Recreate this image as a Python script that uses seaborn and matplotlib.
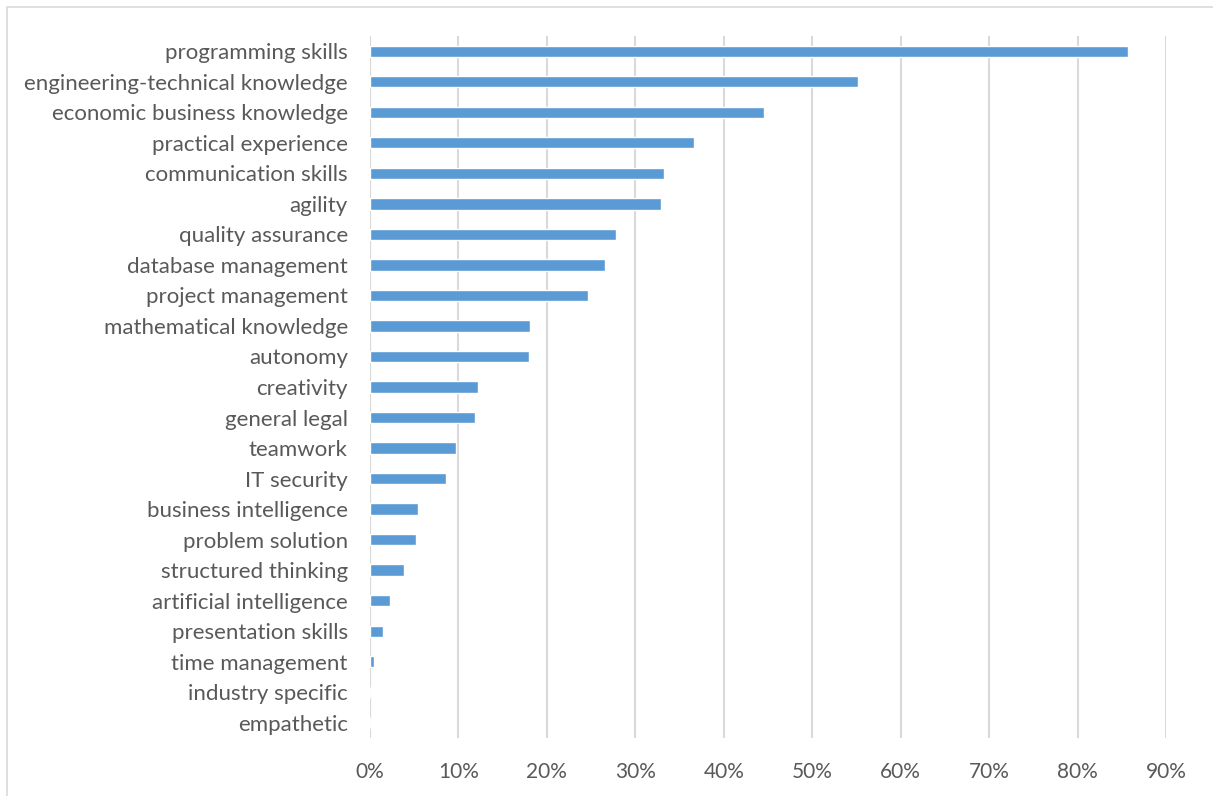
import matplotlib
matplotlib.use("Agg")
import matplotlib.pyplot as plt
from matplotlib.patches import Rectangle
from matplotlib.ticker import PercentFormatter
import pandas as pd
import seaborn as sns

skills = [
    "programming skills", "engineering-technical knowledge", "economic business knowledge",
    "practical experience", "communication skills", "agility", "quality assurance",
    "database management", "project management", "mathematical knowledge", "autonomy",
    "creativity", "general legal", "teamwork", "IT security", "business intelligence",
    "problem solution", "structured thinking", "artificial intelligence",
    "presentation skills", "time management", "industry specific", "empathetic",
]
shares = [
    0.857, 0.552, 0.446, 0.366, 0.332, 0.329, 0.278, 0.266, 0.246, 0.181, 0.180,
    0.122, 0.119, 0.097, 0.086, 0.054, 0.052, 0.038, 0.023, 0.015, 0.004, 0.0, 0.0,
]
x_ticks = [0.0, 0.1, 0.2, 0.3, 0.4, 0.5, 0.6, 0.7, 0.8, 0.9]

df = pd.DataFrame({"skill": skills, "share": shares})

sns.set_theme(style="white")
plt.rcParams["font.family"] = ["Lato", "DejaVu Sans"]

W, H = 1213, 796
fig = plt.figure(figsize=(W / 100, H / 100), dpi=100)
ax = fig.add_axes([370 / W, 1 - 738 / H, (1166 - 370) / W, (738 - 36) / H])

sns.barplot(data=df, x="share", y="skill", orient="h", color="#5B9BD5",
            saturation=1, width=0.37, ax=ax, zorder=3)

ax.set_xlim(0, 0.9)
ax.set_ylim(len(skills) - 0.5, -0.5)
ax.set_xticks(x_ticks)
ax.xaxis.set_major_formatter(PercentFormatter(1.0, decimals=0))
ax.grid(axis="x", color="#D9D9D9", linewidth=1.5, zorder=0)
ax.grid(axis="y", visible=False)
for s in ax.spines.values():
    s.set_visible(False)
ax.axvline(0, color="#D9D9D9", linewidth=1.5, zorder=1)

ax.set_xlabel("")
ax.set_ylabel("")
ax.tick_params(axis="x", length=0, pad=17, labelsize=15, labelcolor="#595959")
ax.tick_params(axis="y", length=0, pad=16, labelsize=16, labelcolor="#595959")

# chart-area frame
fig.patches.append(Rectangle((7 / W, -0.05), 1.1, 1 - 7 / H + 0.05,
                             transform=fig.transFigure, fill=False,
                             edgecolor="#D9D9D9", linewidth=1.2))

fig.savefig("out.png", dpi=100, facecolor="white")
